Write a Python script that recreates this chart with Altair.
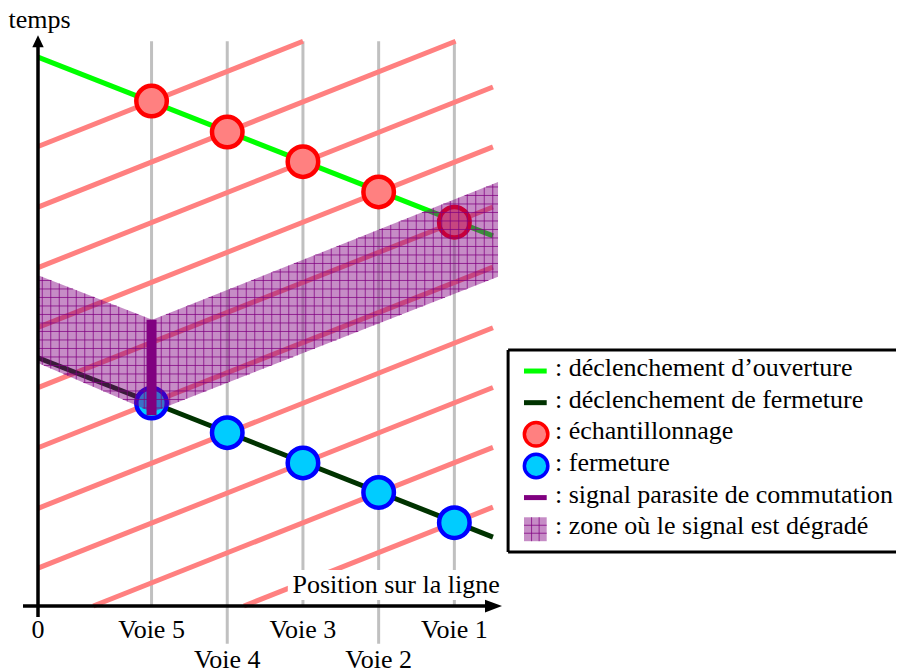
import altair as alt
import numpy as np
import pandas as pd

# ---------------- values ----------------
# diagram units: 1 unit = spacing between two tracks (x) / same length on time axis
voie_labels = ["Voie 5", "Voie 4", "Voie 3", "Voie 2", "Voie 1"]
voie_pos = [1.5, 2.5, 3.5, 4.5, 5.5]
voie_row = [0, 1, 0, 1, 0]
sampling_time = [6.67, 6.26, 5.87, 5.47, 5.07]   # red circles
closing_time = [2.68, 2.29, 1.89, 1.50, 1.10]    # blue circles
open_line_x = [0.0, 6.01]
open_line_t = [7.25, 4.89]
close_line_x = [0.0, 6.01]
close_line_t = [3.28, 0.91]
clock_offsets = [6.07, 5.27, 4.47, 3.68, 2.885, 2.09, 1.29, 0.50, -0.29, -1.08]
clock_slope = 0.397
zone_x = [0.0, 1.51, 6.077]
zone_top = [4.37, 3.78, 5.60]
zone_bottom = [3.21, 2.56, 4.35]
parasite_x = [1.5]
parasite_t1 = [2.52]
parasite_t2 = [3.78]
legend_labels = [
    ": déclenchement d\u2019ouverture",
    ": déclenchement de fermeture",
    ": échantillonnage",
    ": fermeture",
    ": signal parasite de commutation",
    ": zone où le signal est dégradé",
]

# ---------------- frame ----------------
X_END = 6.01      # right end of the drawn lines
T_TOP = 7.46      # top of the grid lines
W, H = 888, 662
PX = 75.7                 # pixels per unit
OX, OY = 30, 598          # plot-area pixel of the origin
xs = alt.Scale(domain=[-OX / PX, (W - OX) / PX], nice=False, zero=False)
ys = alt.Scale(domain=[(OY - H) / PX, OY / PX], nice=False, zero=False)
FONT = "Liberation Serif"
FS = 26


def X(f):
    return alt.X(f, type="quantitative", scale=xs, axis=None)


def Y(f):
    return alt.Y(f, type="quantitative", scale=ys, axis=None)


# grey track lines
grey_df = pd.DataFrame({
    "x": voie_pos,
    "y1": [T_TOP] * 5,
    "y2": [0.0 if r == 0 else -0.50 for r in voie_row],
})
grey = alt.Chart(grey_df).mark_rule(color="#c0c0c0", strokeWidth=3).encode(
    x=X("x"), y=Y("y1"), y2="y2")

# red clock lines, clipped to the frame
rl = []
for c in clock_offsets:
    x1 = max(0.0, -c / clock_slope)
    x2 = min(X_END, (T_TOP - c) / clock_slope)
    if x2 > x1:
        rl.append({"x": x1, "x2": x2, "y": c + clock_slope * x1, "y2": c + clock_slope * x2})
red_lines = alt.Chart(pd.DataFrame(rl)).mark_rule(color="#ff8080", strokeWidth=5).encode(
    x=X("x"), x2="x2", y=Y("y"), y2="y2")

green = alt.Chart(pd.DataFrame({"x": open_line_x, "t": open_line_t})).mark_line(
    color="#00ff00", strokeWidth=5).encode(x=X("x"), y=Y("t"))
dark = alt.Chart(pd.DataFrame({"x": close_line_x, "t": close_line_t})).mark_line(
    color="#003300", strokeWidth=5).encode(x=X("x"), y=Y("t"))

red_pts = alt.Chart(pd.DataFrame({"x": voie_pos, "t": sampling_time})).mark_point(
    shape="circle", size=930, filled=True, fill="#ff8080", stroke="#ff0000",
    strokeWidth=4.5, opacity=1).encode(x=X("x"), y=Y("t"))
blue_pts = alt.Chart(pd.DataFrame({"x": voie_pos, "t": closing_time})).mark_point(
    shape="circle", size=930, filled=True, fill="#00ccff", stroke="#0000ff",
    strokeWidth=4.5, opacity=1).encode(x=X("x"), y=Y("t"))

# degraded zone + hatch
zone = alt.Chart(pd.DataFrame({"x": zone_x, "top": zone_top, "bot": zone_bottom})).mark_area(
    color="#800080", opacity=0.45).encode(x=X("x"), y=Y("top"), y2="bot")

step = 8.5 / PX
hx = np.arange(zone_x[0] + step / 2, zone_x[-1], step)
vdf = pd.DataFrame({"x": hx, "y1": np.interp(hx, zone_x, zone_bottom),
                    "y2": np.interp(hx, zone_x, zone_top)})
fine = np.linspace(zone_x[0], zone_x[-1], 3000)
lo = np.interp(fine, zone_x, zone_bottom)
hi = np.interp(fine, zone_x, zone_top)
hrows = []
for lv in np.arange(min(zone_bottom) + step / 2, max(zone_top), step):
    idx = np.flatnonzero((lo <= lv) & (lv <= hi))
    if len(idx) == 0:
        continue
    br = np.flatnonzero(np.diff(idx) > 1)
    starts = np.r_[idx[0], idx[br + 1]]
    ends = np.r_[idx[br], idx[-1]]
    for s, e in zip(starts, ends):
        hrows.append({"x": fine[s], "x2": fine[e], "y": lv})
hdf = pd.DataFrame(hrows)
hatch_v = alt.Chart(vdf).mark_rule(color="#800080", strokeWidth=1, opacity=0.75).encode(
    x=X("x"), y=Y("y1"), y2="y2")
hatch_h = alt.Chart(hdf).mark_rule(color="#800080", strokeWidth=1, opacity=0.75).encode(
    x=X("x"), x2="x2", y=Y("y"))

parasite = alt.Chart(pd.DataFrame({"x": parasite_x, "t1": parasite_t1, "t2": parasite_t2})).mark_rule(
    color="#800080", strokeWidth=10).encode(x=X("x"), y=Y("t1"), y2="t2")

# white box behind the x-axis title
wbox = alt.Chart(pd.DataFrame({"x": [3.30], "x2": [6.13], "y": [0.08], "y2": [0.475]})).mark_rect(
    color="white").encode(x=X("x"), x2="x2", y=Y("y"), y2="y2")

# axes
axes_df = pd.DataFrame({"x": [-0.198, 0.0], "x2": [5.97, 0.0], "y": [0.0, -0.145], "y2": [0.0, 7.41]})
axes = alt.Chart(axes_df).mark_rule(color="black", strokeWidth=3.5).encode(
    x=X("x"), x2="x2", y=Y("y"), y2="y2")
arrow_x = alt.Chart(pd.DataFrame({"x": [6.017], "y": [0.0]})).mark_point(
    shape="M1,0L-1,-0.75L-1,0.75Z", size=289, filled=True, color="black", opacity=1).encode(
    x=X("x"), y=Y("y"))
arrow_y = alt.Chart(pd.DataFrame({"x": [0.0], "y": [7.46]})).mark_point(
    shape="M0,-1L-0.95,1L0.95,1Z", size=144, filled=True, color="black", opacity=1).encode(
    x=X("x"), y=Y("y"))

# axis texts
tick_df = pd.DataFrame({
    "x": [0.0] + voie_pos,
    "y": [-0.423] + [-0.423 if r == 0 else -0.819 for r in voie_row],
    "label": ["0"] + voie_labels,
})
ticks = alt.Chart(tick_df).mark_text(font=FONT, fontSize=FS, align="center", baseline="alphabetic",
                                     color="black").encode(x=X("x"), y=Y("y"), text="label:N")
xtitle = alt.Chart(pd.DataFrame({"x": [6.10], "y": [0.172], "t": ["Position sur la ligne"]})).mark_text(
    font=FONT, fontSize=FS, align="right", baseline="alphabetic", color="black").encode(
    x=X("x"), y=Y("y"), text="t:N")
ytitle = alt.Chart(pd.DataFrame({"x": [0.02], "y": [7.635], "t": ["temps"]})).mark_text(
    font=FONT, fontSize=FS, align="center", baseline="alphabetic", color="black").encode(
    x=X("x"), y=Y("y"), text="t:N")

# ---------------- legend ----------------
LG_TOP, LG_STEP = 3.104, 0.418
rows_y = [LG_TOP - i * LG_STEP for i in range(len(legend_labels))]
box_df = pd.DataFrame({"x": [6.21, 6.21, 6.21], "x2": [6.21, 11.5, 11.5],
                       "y": [3.382, 3.382, 0.713], "y2": [0.713, 3.382, 0.713]})
lg_box = alt.Chart(box_df).mark_rule(color="black", strokeWidth=3).encode(
    x=X("x"), x2="x2", y=Y("y"), y2="y2")
lg_text = alt.Chart(pd.DataFrame({"x": [6.83] * 6, "y": [r - 0.066 for r in rows_y],
                                  "t": legend_labels})).mark_text(
    font=FONT, fontSize=FS, align="left", baseline="alphabetic", color="black").encode(
    x=X("x"), y=Y("y"), text="t:N")
lg_line_df = pd.DataFrame({"x": [6.42] * 3, "x2": [6.72] * 3, "y": [rows_y[0], rows_y[1], rows_y[4]],
                           "c": ["#00ff00", "#003300", "#800080"]})
lg_lines = alt.Chart(lg_line_df).mark_rule(strokeWidth=5).encode(
    x=X("x"), x2="x2", y=Y("y"), color=alt.Color("c:N", scale=None))
lg_red = alt.Chart(pd.DataFrame({"x": [6.58], "y": [rows_y[2]]})).mark_point(
    shape="circle", size=552, filled=True, fill="#ff8080", stroke="#ff0000", strokeWidth=3.5,
    opacity=1).encode(x=X("x"), y=Y("y"))
lg_blue = alt.Chart(pd.DataFrame({"x": [6.58], "y": [rows_y[3]]})).mark_point(
    shape="circle", size=552, filled=True, fill="#00ccff", stroke="#0000ff", strokeWidth=3.5,
    opacity=1).encode(x=X("x"), y=Y("y"))
sq = {"x": 6.42, "x2": 6.72, "y": rows_y[5] - 0.158, "y2": rows_y[5] + 0.158}
lg_sq = alt.Chart(pd.DataFrame([sq])).mark_rect(color="#800080", opacity=0.45).encode(
    x=X("x"), x2="x2", y=Y("y"), y2="y2")
sq_w, sq_h = sq["x2"] - sq["x"], sq["y2"] - sq["y"]
sq_lines = pd.DataFrame({
    "x": [sq["x"] + sq_w / 3, sq["x"] + 2 * sq_w / 3, sq["x"], sq["x"]],
    "x2": [sq["x"] + sq_w / 3, sq["x"] + 2 * sq_w / 3, sq["x2"], sq["x2"]],
    "y": [sq["y"], sq["y"], sq["y"] + sq_h / 3, sq["y"] + 2 * sq_h / 3],
    "y2": [sq["y2"], sq["y2"], sq["y"] + sq_h / 3, sq["y"] + 2 * sq_h / 3],
})
lg_sq_h = alt.Chart(sq_lines).mark_rule(color="#800080", strokeWidth=1, opacity=0.75).encode(
    x=X("x"), x2="x2", y=Y("y"), y2="y2")

chart = alt.layer(
    grey, red_lines, green, dark, red_pts, blue_pts, zone, hatch_v, hatch_h, parasite,
    wbox, axes, arrow_x, arrow_y, ticks, xtitle, ytitle,
    lg_box, lg_lines, lg_red, lg_blue, lg_sq, lg_sq_h, lg_text,
).properties(
    width=W, height=H, padding=0, autosize=alt.AutoSizeParams(type="none"),
).configure_view(stroke=None)

chart.save("out.html", embed_options={"renderer": "svg", "actions": False})
